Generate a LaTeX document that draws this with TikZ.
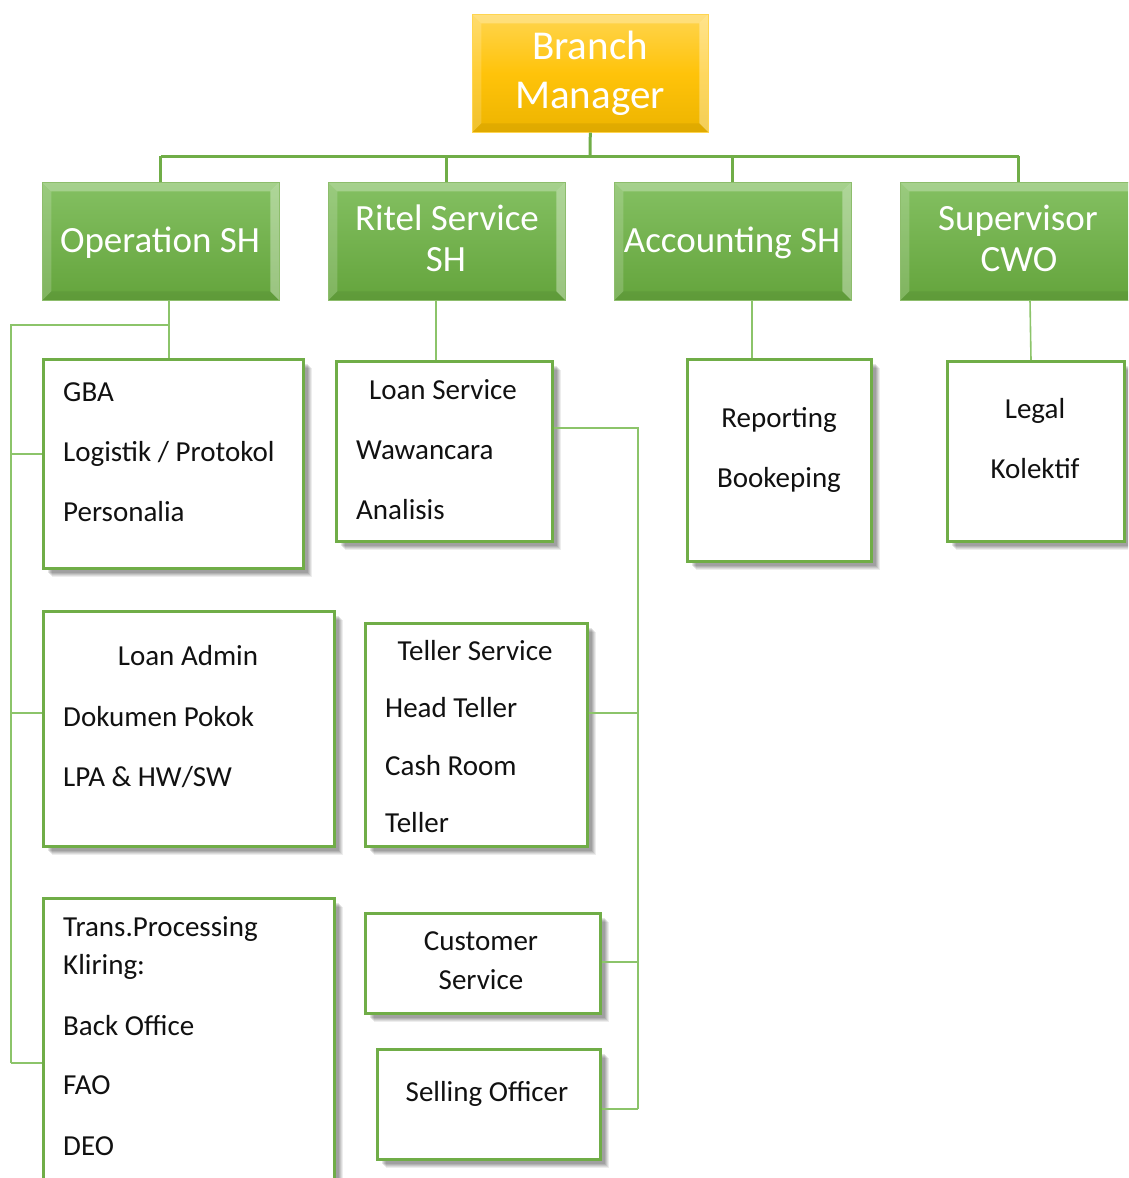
\documentclass[tikz,border=0pt]{standalone}
\usepackage{fontspec}
\setmainfont{Carlito}
\usetikzlibrary{shadows,calc}
\definecolor{gline}{HTML}{70AD47}
\definecolor{tline}{HTML}{8CC46A}
\definecolor{gtop}{HTML}{84C062}
\definecolor{gbot}{HTML}{64A43C}
\definecolor{ytop}{HTML}{FFD54F}
\definecolor{ymid}{HTML}{FFC30A}
\definecolor{ybot}{HTML}{EDB400}
\definecolor{txtc}{HTML}{111111}
\begin{document}
\begin{tikzpicture}[x=1pt,y=-1pt,
  bevel/.style={path picture={
    \fill[white,opacity=0.28] (path picture bounding box.north west) -- (path picture bounding box.north east) -- ($(path picture bounding box.north east)+(-9,9)$) -- ($(path picture bounding box.north west)+(9,9)$) -- cycle;
    \fill[white,opacity=0.18] (path picture bounding box.north west) -- ($(path picture bounding box.north west)+(9,9)$) -- ($(path picture bounding box.south west)+(9,-9)$) -- (path picture bounding box.south west) -- cycle;
    \fill[white,opacity=0.35] (path picture bounding box.north east) -- ($(path picture bounding box.north east)+(-9,9)$) -- ($(path picture bounding box.south east)+(-9,-9)$) -- (path picture bounding box.south east) -- cycle;
    \fill[black,opacity=0.06] (path picture bounding box.south west) -- ($(path picture bounding box.south west)+(9,-9)$) -- ($(path picture bounding box.south east)+(-9,-9)$) -- (path picture bounding box.south east) -- cycle;
  }},
  gbox/.style={anchor=north west, inner sep=0pt, minimum width=237pt, minimum height=118pt,
    top color=gtop, bottom color=gbot, draw=gline!80!white, line width=0.6pt, bevel},
  ybox/.style={anchor=north west, inner sep=0pt, minimum width=236pt, minimum height=118pt,
    top color=ytop, bottom color=ybot, middle color=ymid, draw=ytop, line width=0.6pt, bevel},
  wbox/.style={anchor=north west, inner sep=0pt, draw=gline, line width=3pt, fill=white,
    drop shadow={shadow xshift=8pt, shadow yshift=-8pt, opacity=0.07, fill=black},
    drop shadow={shadow xshift=7pt, shadow yshift=-7pt, opacity=0.08, fill=black},
    drop shadow={shadow xshift=6pt, shadow yshift=-6pt, opacity=0.09, fill=black},
    drop shadow={shadow xshift=5pt, shadow yshift=-5pt, opacity=0.10, fill=black},
    drop shadow={shadow xshift=4pt, shadow yshift=-4pt, opacity=0.10, fill=black}},
  head/.style={text=white, inner sep=0pt, font=\fontsize{37}{41}\selectfont},
  bmtxt/.style={text=white, inner sep=0pt, font=\fontsize{41}{48}\selectfont},
  txt/.style={text=txtc, inner sep=0pt, font=\fontsize{29}{35}\selectfont},
  lt/.style={txt, anchor=mid west},
  ct/.style={txt, anchor=mid},
  thickc/.style={draw=gline, line width=3pt},
  thinc/.style={draw=tline, line width=1.6pt}
]
\useasboundingbox (0,0) rectangle (1128,1178);
\clip (0,0) rectangle (1128,1178);

% ---------- top level ----------
\node[ybox] (bm) at (472,14) {};
\node[bmtxt, anchor=mid] (bm1) at (590,57) {Branch};
\node[bmtxt, anchor=mid] (bm2) at (590,106) {Manager};

% ---------- section heads ----------
\node[gbox] (ops) at (42,182) {};
\node[gbox] (rit) at (328,182) {};
\node[gbox] (acc) at (614,182) {};
\node[gbox] (sup) at (900,182) {};
\node[head, anchor=mid] (opst) at (160,250) {Operation SH};
\node[head, anchor=mid] (ritt1) at (447,228) {Ritel Service};
\node[head, anchor=mid] (ritt2) at (446,269) {SH};
\node[head, anchor=mid] (acct) at (732,250) {Accounting SH};
\node[head, anchor=mid] (supt1) at (1018,228) {Supervisor};
\node[head, anchor=mid] (supt2) at (1019,269) {CWO};

% ---------- thick connectors ----------
\coordinate (bus) at (590,156);
\draw[thickc] (bm.south) -- (bus);
\draw[thickc] (bus -| ops.north) -- (bus -| sup.north);
\foreach \n in {ops,rit,acc,sup} \draw[thickc] (bus -| \n.north) -- (\n.north);

% ---------- white boxes ----------
\node[wbox, minimum width=260pt, minimum height=209pt] (gba) at (42,358) {};
\node[wbox, minimum width=216pt, minimum height=180pt] (loan) at (335,360) {};
\node[wbox, minimum width=184pt, minimum height=202pt] (rep) at (686,358) {};
\node[wbox, minimum width=177pt, minimum height=180pt] (legal) at (946,360) {};
\node[wbox, minimum width=291pt, minimum height=235pt] (ladm) at (42,610) {};
\node[wbox, minimum width=222pt, minimum height=223pt] (tell) at (364,622) {};
\node[wbox, minimum width=291pt, minimum height=300pt] (trans) at (42,897) {};
\node[wbox, minimum width=235pt, minimum height=100pt] (cs) at (364,912) {};
\node[wbox, minimum width=223pt, minimum height=110pt] (sell) at (376,1048) {};

% ---------- texts ----------
\node[lt] (t1) at (63,399) {GBA};
\node[lt] (t2) at (63,459) {Logistik / Protokol};
\node[lt] (t3) at (63,519) {Personalia};

\node[ct] (t4) at (443,397) {Loan Service};
\node[lt] (t5) at (356,457) {Wawancara};
\node[lt] (t6) at (356,517) {Analisis};

\node[ct] (t7) at (779,425) {Reporting};
\node[ct] (t8) at (779,485) {Bookeping};

\node[ct] (t9) at (1035,416) {Legal};
\node[ct] (t10) at (1035,476) {Kolektif};

\node[ct] (t11) at (188,663) {Loan Admin};
\node[lt] (t12) at (63,724) {Dokumen Pokok};
\node[lt] (t13) at (63,784) {LPA \& HW/SW};

\node[ct] (t14) at (475,658) {Teller Service};
\node[lt] (t15) at (385,715) {Head Teller};
\node[lt] (t16) at (385,773) {Cash Room};
\node[lt] (t17) at (385,830) {Teller};

\node[lt] (t18) at (63,934) {Trans.Processing};
\node[lt] (t19) at (63,972) {Kliring:};
\node[lt] (t20) at (63,1033) {Back Office};
\node[lt] (t21) at (63,1092) {FAO};
\node[lt] (t22) at (63,1153) {DEO};

\node[ct] (t23) at (481,948) {Customer};
\node[ct] (t24) at (481,987) {Service};

\node[ct] (t25) at (487,1099) {Selling Officer};

% ---------- thin connectors ----------
% Operation SH
\coordinate (oj) at (169,325);
\coordinate (ol) at (11,325);
\coordinate (ob1) at (11,454);
\coordinate (ob2) at (11,713);
\coordinate (ob3) at (11,1063);
\draw[thinc] (oj |- ops.south) -- (oj |- gba.north);
\draw[thinc] (oj) -- (ol) -- (ob3);
\draw[thinc] (ob1) -- (ob1 -| gba.west);
\draw[thinc] (ob2) -- (ob2 -| ladm.west);
\draw[thinc] (ob3) -- (ob3 -| trans.west);

% Ritel Service SH
\coordinate (rj) at (436,330);
\draw[thinc] (rj |- rit.south) -- (rj |- loan.north);
\coordinate (rb0) at (638,428);
\coordinate (rb1) at (638,713);
\coordinate (rb2) at (638,962);
\coordinate (rb3) at (638,1109);
\draw[thinc] (rb0 -| loan.east) -- (rb0) -- (rb3);
\draw[thinc] (rb1 -| tell.east) -- (rb1);
\draw[thinc] (rb2 -| cs.east) -- (rb2);
\draw[thinc] (rb3 -| sell.east) -- (rb3);

% Accounting SH
\coordinate (aj) at (752,330);
\draw[thinc] (aj |- acc.south) -- (aj |- rep.north);

% Supervisor CWO
\coordinate (sj1) at (1030,300);
\coordinate (sj2) at (1031,360);
\draw[thinc] (sj1) -- (sj2 |- legal.north);
\end{tikzpicture}
\end{document}
